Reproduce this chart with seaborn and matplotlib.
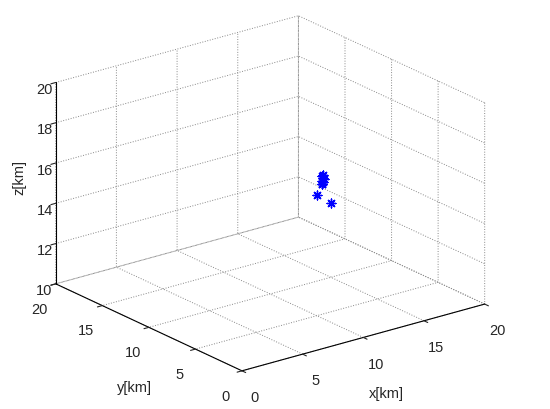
import matplotlib
matplotlib.use("Agg")
import matplotlib.pyplot as plt
import seaborn as sns

sns.set_style("white")
plt.rcParams['font.family'] = ['Liberation Sans', 'DejaVu Sans']

# source locations (km)
x_km = [14.0, 14.1, 13.95, 14.05, 14.15, 13.95, 14.1, 14.0, 13.4, 14.1]
y_km = [9.65, 9.7, 9.6, 9.65, 9.6, 9.6, 9.7, 9.65, 9.4, 8.8]
z_km = [15.25, 15.15, 15.05, 14.95, 15.1, 14.9, 15.3, 14.85, 14.5, 14.1]

xticks = [0, 5, 10, 15, 20]
yticks = [0, 5, 10, 15, 20]
zticks = [10, 12, 14, 16, 18, 20]

W, H = 550, 410
fig = plt.figure(figsize=(5.5, 4.1), dpi=100)
ax = fig.add_axes([-0.06, -0.049, 1.08, 1.12], projection='3d')
ax.set_proj_type('ortho')
ax.view_init(elev=21, azim=-127.5)
ax.set_box_aspect((4, 4, 2.82), zoom=1.022)

ax.scatter(x_km, y_km, z_km, marker=(8, 2, 0), s=40, c='blue', linewidths=1.0, depthshade=False)

ax.set_xlim(0, 20)
ax.set_ylim(0, 20)
ax.set_zlim(10, 20)
ax.set_xticks(xticks)
ax.set_yticks(yticks)
ax.set_zticks(zticks)
ax.set_xlabel('')
ax.set_ylabel('')
ax.set_zlabel('')

for axis in (ax.xaxis, ax.yaxis, ax.zaxis):
    axis.set_pane_color((1, 1, 1, 0))
    axis.pane.set_edgecolor((1, 1, 1, 0))
    axis._axinfo['grid'].update(color='#888888', linestyle=':', linewidth=0.7)
    axis._axinfo['tick'].update(inward_factor=0.25, outward_factor=0.0)
    axis.line.set_color('black')
ax.tick_params(labelsize=10.5)
ax.tick_params(axis='z', pad=-3.5)
ax.grid(True)

fig.text(386 / W, 1 - 394 / H, 'x[km]', fontsize=10.5, ha='center', va='center')
fig.text(134 / W, 1 - 388 / H, 'y[km]', fontsize=10.5, ha='center', va='center')
fig.text(19 / W, 1 - 178 / H, 'z[km]', fontsize=10.5, ha='center', va='center', rotation=90)

fig.savefig('out.png', dpi=100)
